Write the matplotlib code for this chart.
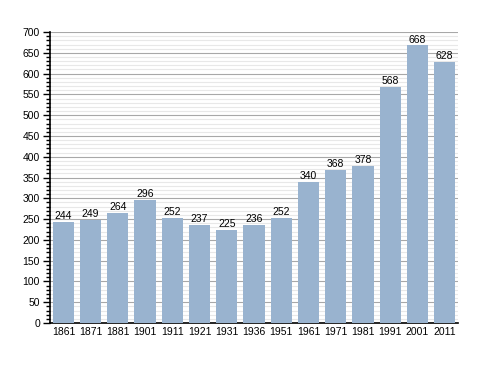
import matplotlib
matplotlib.use('Agg')
import matplotlib.pyplot as plt
from matplotlib.ticker import MultipleLocator

annees = ['1861', '1871', '1881', '1901', '1911', '1921', '1931', '1936',
          '1951', '1961', '1971', '1981', '1991', '2001', '2011']
habitants = [244, 249, 264, 296, 252, 237, 225, 236, 252, 340, 368, 378, 568, 668, 628]

plt.rcParams['font.family'] = ['Liberation Sans', 'DejaVu Sans']

fig = plt.figure(figsize=(4.88, 3.73), dpi=100)
ax = fig.add_axes([0.102, 0.134, 0.837, 0.780])

x = range(len(annees))
barres = ax.bar(x, habitants, width=0.78, color='#99b3cf', zorder=3)

for xi, v in zip(x, habitants):
	ax.text(xi, v + 2, str(v), ha='center', va='bottom', fontsize=7.5, color='black', zorder=4)

ax.set_xlim(-0.5, len(annees) - 0.5)
ax.set_ylim(0, 700)
ax.set_xticks(list(x))
ax.set_xticklabels(annees, fontsize=7.5)
ax.yaxis.set_major_locator(MultipleLocator(50))
ax.yaxis.set_minor_locator(MultipleLocator(10))
ax.tick_params(axis='y', labelsize=7.5, length=5, width=1, direction='out', pad=2)
ax.tick_params(axis='y', which='minor', length=3, width=1)
ax.tick_params(axis='x', length=0, pad=3)

ax.grid(axis='y', which='major', color='#a8a8a8', linewidth=0.8, zorder=1)
ax.grid(axis='y', which='minor', color='#e8e8e8', linewidth=0.8, zorder=1)

ax.spines['top'].set_visible(False)
ax.spines['right'].set_visible(False)
ax.spines['left'].set_linewidth(1.2)
ax.spines['bottom'].set_linewidth(1.2)

fig.savefig('out.png', dpi=100)
